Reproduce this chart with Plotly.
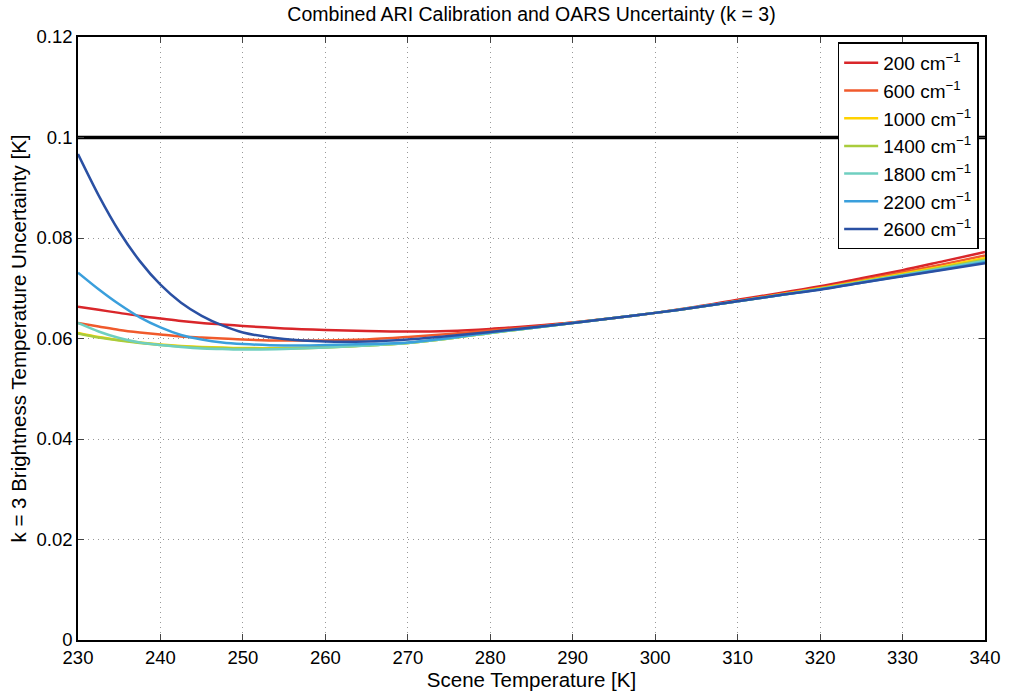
import plotly.graph_objects as go

temps = [230, 232.5, 235, 237.5, 240, 242.5, 245, 247.5, 250, 255, 260, 265, 270, 275, 280, 285,
         290, 295, 300, 305, 310, 315, 320, 325, 330, 335, 340]

u200 = [0.0663, 0.0657, 0.0651, 0.0645, 0.0640, 0.0635, 0.0631, 0.0628, 0.0625, 0.0620, 0.0617, 0.0615,
        0.0614, 0.0615, 0.0619, 0.0625, 0.0632, 0.0641, 0.0651, 0.0663, 0.0677, 0.0690, 0.0704, 0.0720,
        0.0736, 0.0754, 0.0772]
u600 = [0.0631, 0.0624, 0.0617, 0.0612, 0.0608, 0.0604, 0.0602, 0.0600, 0.0598, 0.0596, 0.0596, 0.0598,
        0.0603, 0.0609, 0.0616, 0.0623, 0.0632, 0.0641, 0.0651, 0.0662, 0.0675, 0.0688, 0.0701, 0.0716,
        0.0732, 0.0748, 0.0765]
u1000 = [0.0611, 0.0603, 0.0597, 0.0592, 0.0588, 0.0585, 0.0583, 0.0582, 0.0581, 0.0581, 0.0583, 0.0586,
         0.0591, 0.0600, 0.0611, 0.0621, 0.0631, 0.0641, 0.0651, 0.0662, 0.0674, 0.0687, 0.0700, 0.0714,
         0.0729, 0.0744, 0.0760]
u1400 = [0.0610, 0.0602, 0.0596, 0.0591, 0.0587, 0.0584, 0.0582, 0.0581, 0.0580, 0.0580, 0.0582, 0.0586,
         0.0591, 0.0600, 0.0611, 0.0621, 0.0631, 0.0641, 0.0651, 0.0662, 0.0674, 0.0686, 0.0699, 0.0713,
         0.0727, 0.0742, 0.0757]
u1800 = [0.0631, 0.0614, 0.0601, 0.0592, 0.0587, 0.0583, 0.0580, 0.0579, 0.0578, 0.0579, 0.0582, 0.0586,
         0.0591, 0.0600, 0.0611, 0.0621, 0.0631, 0.0641, 0.0651, 0.0662, 0.0674, 0.0686, 0.0698, 0.0712,
         0.0726, 0.0740, 0.0755]
u2200 = [0.0731, 0.0698, 0.0668, 0.0642, 0.0622, 0.0607, 0.0598, 0.0592, 0.0589, 0.0586, 0.0587, 0.0589,
         0.0592, 0.0601, 0.0612, 0.0621, 0.0631, 0.0641, 0.0651, 0.0662, 0.0674, 0.0686, 0.0698, 0.0711,
         0.0725, 0.0738, 0.0752]
u2600 = [0.0967, 0.0885, 0.0813, 0.0754, 0.0707, 0.0671, 0.0645, 0.0626, 0.0612, 0.0599, 0.0594, 0.0594,
         0.0598, 0.0605, 0.0613, 0.0622, 0.0631, 0.0641, 0.0651, 0.0662, 0.0674, 0.0686, 0.0697, 0.0711,
         0.0724, 0.0737, 0.0750]

limit_x = [230, 340]
limit_y = [0.1, 0.1]

series_names = ["200 cm<sup>−1</sup>", "600 cm<sup>−1</sup>", "1000 cm<sup>−1</sup>",
                "1400 cm<sup>−1</sup>", "1800 cm<sup>−1</sup>", "2200 cm<sup>−1</sup>",
                "2600 cm<sup>−1</sup>"]
series_vals = [u200, u600, u1000, u1400, u1800, u2200, u2600]
colors = ["#d9262a", "#f05a2c", "#ffd200", "#a9cc3c", "#6fcfc0", "#3a9fdc", "#2a50a3"]

xticks = [230, 240, 250, 260, 270, 280, 290, 300, 310, 320, 330, 340]
yticks = [0, 0.02, 0.04, 0.06, 0.08, 0.1, 0.12]
ytick_text = ["0", "0.02", "0.04", "0.06", "0.08", "0.1", "0.12"]

fig = go.Figure()
fig.add_trace(go.Scatter(x=limit_x, y=limit_y, mode="lines",
                         line=dict(color="black", width=3.5), showlegend=False))
for name, vals, c in zip(series_names, series_vals, colors):
    fig.add_trace(go.Scatter(x=temps, y=vals, mode="lines", name=name,
                             line=dict(color=c, width=2.5, shape="spline", smoothing=0.8)))

font = "Liberation Sans, Arial, Helvetica, sans-serif"
fig.update_layout(
    width=1012, height=694,
    margin=dict(l=78, r=22, t=37, b=50),
    paper_bgcolor="white", plot_bgcolor="white",
    font=dict(family=font, color="black", size=18),
    title=dict(text="Combined ARI Calibration and OARS Uncertainty (k = 3)",
               x=0.5, xref="paper", xanchor="center", y=0.979, yanchor="middle",
               font=dict(size=19.5)),
    showlegend=True,
    legend=dict(x=0.993, y=0.991, xanchor="right", yanchor="top",
                bgcolor="white", bordercolor="black", borderwidth=1.5,
                font=dict(size=19), tracegroupgap=0, itemwidth=34),
)
fig.update_xaxes(
    range=[230, 340], tickvals=xticks, ticks="inside", ticklen=6,
    showline=True, linecolor="black", linewidth=1.5, mirror="ticks",
    showgrid=True, gridcolor="#999999", griddash="1px,4px", gridwidth=1,
    zeroline=False, tickfont=dict(size=18.5),
    title=dict(text="Scene Temperature [K]", standoff=0, font=dict(size=20.5)),
)
fig.update_yaxes(
    range=[0, 0.12], tickvals=yticks, ticktext=ytick_text, ticks="inside", ticklen=6,
    showline=True, linecolor="black", linewidth=1.5, mirror="ticks",
    showgrid=True, gridcolor="#999999", griddash="1px,4px", gridwidth=1,
    zeroline=False, tickfont=dict(size=18.5),
    title=dict(text="k = 3 Brightness Temperature Uncertainty [K]", standoff=4, font=dict(size=20.5)),
)

fig.write_html("out.html")
